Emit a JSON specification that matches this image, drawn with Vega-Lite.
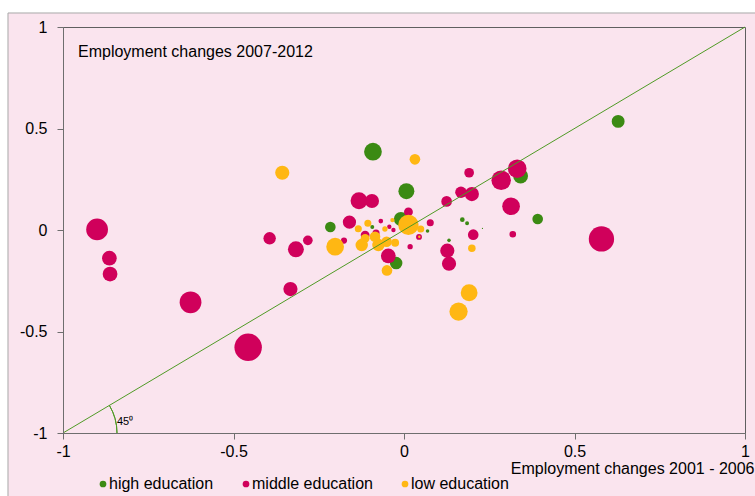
{
  "$schema": "https://vega.github.io/schema/vega-lite/v6.json",
  "width": 682,
  "height": 406,
  "autosize": "none",
  "padding": {"left": 63, "top": 27, "right": 10, "bottom": 63},
  "background": "#FAE4EE",
  "config": {
    "font": "Liberation Sans",
    "view": {"stroke": "#5f5f5f", "strokeWidth": 1}
  },
  "datasets": {
    "points": [
      {"edu": "high education", "x": -0.091, "y": 0.386, "w": 100},
      {"edu": "high education", "x": 0.007, "y": 0.191, "w": 81},
      {"edu": "high education", "x": 0.628, "y": 0.535, "w": 53},
      {"edu": "high education", "x": 0.342, "y": 0.266, "w": 70},
      {"edu": "high education", "x": 0.392, "y": 0.054, "w": 36},
      {"edu": "high education", "x": 0.171, "y": 0.051, "w": 7},
      {"edu": "high education", "x": 0.185, "y": 0.033, "w": 5},
      {"edu": "high education", "x": 0.132, "y": -0.051, "w": 4},
      {"edu": "high education", "x": 0.23, "y": 0.008, "w": 0.4},
      {"edu": "high education", "x": -0.216, "y": 0.015, "w": 36},
      {"edu": "high education", "x": -0.023, "y": -0.163, "w": 50},
      {"edu": "high education", "x": -0.009, "y": 0.054, "w": 64},
      {"edu": "high education", "x": -0.093, "y": 0.015, "w": 5},
      {"edu": "high education", "x": 0.069, "y": -0.005, "w": 4},
      {"edu": "middle education", "x": -0.9, "y": 0.003, "w": 151},
      {"edu": "middle education", "x": -0.864, "y": -0.139, "w": 69},
      {"edu": "middle education", "x": -0.862, "y": -0.217, "w": 69},
      {"edu": "middle education", "x": -0.626, "y": -0.356, "w": 151},
      {"edu": "middle education", "x": -0.457, "y": -0.578, "w": 240},
      {"edu": "middle education", "x": -0.394, "y": -0.041, "w": 49},
      {"edu": "middle education", "x": -0.317, "y": -0.095, "w": 81},
      {"edu": "middle education", "x": -0.282, "y": -0.051, "w": 30},
      {"edu": "middle education", "x": -0.333, "y": -0.291, "w": 64},
      {"edu": "middle education", "x": -0.16, "y": 0.039, "w": 56},
      {"edu": "middle education", "x": -0.132, "y": 0.144, "w": 90},
      {"edu": "middle education", "x": -0.094, "y": 0.143, "w": 64},
      {"edu": "middle education", "x": -0.046, "y": -0.128, "w": 69},
      {"edu": "middle education", "x": 0.013, "y": 0.089, "w": 25},
      {"edu": "middle education", "x": 0.077, "y": 0.036, "w": 16},
      {"edu": "middle education", "x": 0.125, "y": 0.141, "w": 36},
      {"edu": "middle education", "x": 0.167, "y": 0.186, "w": 42},
      {"edu": "middle education", "x": 0.199, "y": 0.177, "w": 64},
      {"edu": "middle education", "x": 0.191, "y": 0.282, "w": 30},
      {"edu": "middle education", "x": 0.285, "y": 0.245, "w": 121},
      {"edu": "middle education", "x": 0.332, "y": 0.302, "w": 110},
      {"edu": "middle education", "x": 0.314, "y": 0.117, "w": 100},
      {"edu": "middle education", "x": 0.319, "y": -0.021, "w": 14},
      {"edu": "middle education", "x": 0.203, "y": -0.023, "w": 36},
      {"edu": "middle education", "x": 0.127, "y": -0.102, "w": 64},
      {"edu": "middle education", "x": 0.132, "y": -0.166, "w": 64},
      {"edu": "middle education", "x": 0.579, "y": -0.044, "w": 204},
      {"edu": "middle education", "x": -0.068, "y": 0.044, "w": 7},
      {"edu": "middle education", "x": -0.043, "y": 0.016, "w": 6},
      {"edu": "middle education", "x": -0.031, "y": 0.0, "w": 6},
      {"edu": "middle education", "x": -0.114, "y": -0.025, "w": 25},
      {"edu": "middle education", "x": -0.176, "y": -0.052, "w": 12},
      {"edu": "middle education", "x": 0.044, "y": -0.034, "w": 11},
      {"edu": "middle education", "x": 0.018, "y": -0.082, "w": 9},
      {"edu": "middle education", "x": -0.082, "y": -0.015, "w": 16},
      {"edu": "low education", "x": -0.357, "y": 0.282, "w": 64},
      {"edu": "low education", "x": 0.032, "y": 0.348, "w": 36},
      {"edu": "low education", "x": -0.202, "y": -0.082, "w": 100},
      {"edu": "low education", "x": 0.013, "y": 0.025, "w": 132},
      {"edu": "low education", "x": 0.191, "y": -0.309, "w": 90},
      {"edu": "low education", "x": 0.16, "y": -0.402, "w": 106},
      {"edu": "low education", "x": 0.199, "y": -0.09, "w": 18},
      {"edu": "low education", "x": -0.05, "y": -0.199, "w": 36},
      {"edu": "low education", "x": -0.034, "y": 0.049, "w": 6},
      {"edu": "low education", "x": 0.049, "y": 0.005, "w": 16},
      {"edu": "low education", "x": 0.045, "y": -0.033, "w": 2},
      {"edu": "low education", "x": -0.134, "y": 0.006, "w": 16},
      {"edu": "low education", "x": -0.106, "y": 0.033, "w": 16},
      {"edu": "low education", "x": -0.056, "y": 0.005, "w": 9},
      {"edu": "low education", "x": -0.114, "y": -0.041, "w": 25},
      {"edu": "low education", "x": -0.085, "y": -0.033, "w": 36},
      {"edu": "low education", "x": -0.124, "y": -0.074, "w": 49},
      {"edu": "low education", "x": -0.075, "y": -0.074, "w": 49},
      {"edu": "low education", "x": -0.051, "y": -0.058, "w": 36},
      {"edu": "low education", "x": -0.026, "y": -0.063, "w": 20}
    ],
    "margin": [
      {"x": -1.3, "x2": -1.1613, "y": 1.3, "y2": -1.5},
      {"x": -1.3, "x2": 1.2, "y": 1.3, "y2": 1.069}
    ],
    "border": [{"x": -1.1613, "x2": 1.04, "y": 1.069, "y2": -1.33}],
    "diagonal": [{"x": -1, "y": -1}, {"x": 1, "y": 1}],
    "corner": [{"x": -1, "y": -1}],
    "title": [{"x": -0.956, "y": 0.852, "text": "Employment changes 2007-2012"}],
    "angle": [{"x": -0.842, "y": -0.945, "text": "45⁰"}]
  },
  "layer": [
    {
      "data": {"name": "margin"},
      "mark": {"type": "rect", "fill": "#FFFFFF", "strokeWidth": 0},
      "encoding": {
        "x": {"field": "x", "type": "quantitative", "scale": {"domain": [-1, 1], "nice": false, "zero": false}},
        "x2": {"field": "x2"},
        "y": {"field": "y", "type": "quantitative", "scale": {"domain": [-1, 1], "nice": false, "zero": false}},
        "y2": {"field": "y2"}
      }
    },
    {
      "data": {"name": "border"},
      "mark": {"type": "rect", "fill": null, "fillOpacity": 0, "stroke": "#A8A8A8", "strokeWidth": 1},
      "encoding": {
        "x": {"field": "x", "type": "quantitative"},
        "x2": {"field": "x2"},
        "y": {"field": "y", "type": "quantitative"},
        "y2": {"field": "y2"}
      }
    },
    {
      "data": {"name": "points"},
      "mark": {"type": "circle", "opacity": 1, "strokeWidth": 0},
      "encoding": {
        "x": {
          "field": "x",
          "type": "quantitative",
          "axis": {
            "values": [-1, -0.5, 0, 0.5, 1],
            "labelExpr": "'' + datum.value",
            "grid": false,
            "zindex": 2,
            "labelFontSize": 16,
            "labelColor": "#000000",
            "labelPadding": 4,
            "labelFlush": false,
            "labelOverlap": false,
            "tickSize": 6,
            "tickColor": "#6e6e6e",
            "domainColor": "#6e6e6e",
            "title": "Employment changes 2001 - 2006",
            "titleFontSize": 16,
            "titleFontWeight": "normal",
            "titleColor": "#000000",
            "titleX": 691,
            "titleY": 40,
            "titleAlign": "right",
            "titleBaseline": "alphabetic"
          }
        },
        "y": {
          "field": "y",
          "type": "quantitative",
          "axis": {
            "values": [-1, -0.5, 0, 0.5, 1],
            "labelExpr": "'' + datum.value",
            "grid": false,
            "zindex": 2,
            "labelFontSize": 16,
            "labelColor": "#000000",
            "labelPadding": 10,
            "labelFlush": false,
            "labelOverlap": false,
            "tickSize": 6,
            "tickColor": "#6e6e6e",
            "domainColor": "#6e6e6e",
            "title": null
          }
        },
        "color": {
          "field": "edu",
          "type": "nominal",
          "scale": {
            "domain": ["high education", "middle education", "low education"],
            "range": ["#3B8A13", "#D0005B", "#FFB713"]
          },
          "legend": {
            "orient": "none",
            "legendX": 32,
            "legendY": 449,
            "direction": "horizontal",
            "title": null,
            "symbolType": "circle",
            "symbolSize": 45,
            "symbolStrokeWidth": 0,
            "labelFontSize": 16,
            "labelColor": "#000000",
            "labelOffset": -2,
            "columnPadding": 24,
            "padding": 0
          }
        },
        "size": {
          "field": "w",
          "type": "quantitative",
          "scale": {"type": "linear", "domain": [0, 100], "range": [0, 314]},
          "legend": null
        }
      }
    },
    {
      "data": {"name": "diagonal"},
      "mark": {"type": "line", "color": "#4F9A25", "strokeWidth": 1},
      "encoding": {
        "x": {"field": "x", "type": "quantitative"},
        "y": {"field": "y", "type": "quantitative"}
      }
    },
    {
      "data": {"name": "corner"},
      "mark": {"type": "arc", "theta": 1.034, "theta2": 1.5708, "radius": 54, "radius2": 54, "fill": null, "fillOpacity": 0, "stroke": "#4F9A25", "strokeWidth": 1},
      "encoding": {
        "x": {"field": "x", "type": "quantitative"},
        "y": {"field": "y", "type": "quantitative"}
      }
    },
    {
      "data": {"name": "title"},
      "mark": {"type": "text", "align": "left", "baseline": "alphabetic", "fontSize": 16, "color": "#000000"},
      "encoding": {
        "x": {"field": "x", "type": "quantitative"},
        "y": {"field": "y", "type": "quantitative"},
        "text": {"field": "text"}
      }
    },
    {
      "data": {"name": "angle"},
      "mark": {"type": "text", "align": "left", "baseline": "middle", "fontSize": 11, "color": "#000000"},
      "encoding": {
        "x": {"field": "x", "type": "quantitative"},
        "y": {"field": "y", "type": "quantitative"},
        "text": {"field": "text"}
      }
    }
  ]
}
